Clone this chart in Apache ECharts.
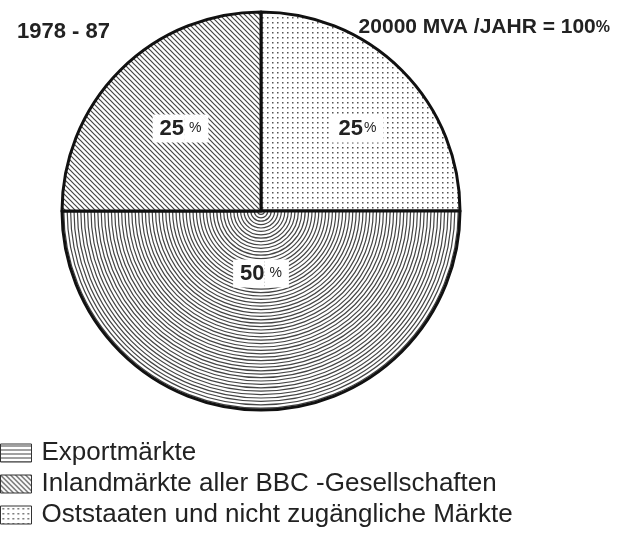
<!DOCTYPE html>
<html>
<head>
<meta charset="utf-8">
<script src="https://cdn.jsdelivr.net/npm/echarts@6/dist/echarts.min.js"></script>
<style>
html, body { margin: 0; padding: 0; background: #fff; }
#main { width: 627px; height: 534px; }
</style>
</head>
<body>
<div id="main"></div>
<script>
// slices in drawing order, clockwise from 12 o'clock
var categories = ['Oststaaten und nicht zugängliche Märkte', 'Exportmärkte', 'Inlandmärkte aller BBC -Gesellschaften'];
var values = [25, 50, 25];
var labels = [['25', '%'], ['50', ' %'], ['25', ' %']];
var legendOrder = ['Exportmärkte', 'Inlandmärkte aller BBC -Gesellschaften', 'Oststaaten und nicht zugängliche Märkte'];

var cx = 261, cy = 211, R = 199;

// dotted fill
function dots() {
    var c = document.createElement('canvas');
    c.width = 5; c.height = 5;
    var g = c.getContext('2d');
    g.fillStyle = '#fff'; g.fillRect(0, 0, 5, 5);
    g.fillStyle = '#555'; g.fillRect(2, 2, 1.5, 1.5);
    return c;
}
// diagonal hatch
function hatch() {
    var c = document.createElement('canvas');
    c.width = 5; c.height = 5;
    var g = c.getContext('2d');
    g.fillStyle = '#fff'; g.fillRect(0, 0, 5, 5);
    g.strokeStyle = '#444'; g.lineWidth = 1.2;
    g.beginPath();
    g.moveTo(-1, -1); g.lineTo(6, 6);
    g.moveTo(-4, 1); g.lineTo(4, 9);
    g.moveTo(1, -4); g.lineTo(9, 4);
    g.stroke();
    return c;
}
// concentric rings around the pie centre
function rings() {
    var c = document.createElement('canvas');
    c.width = 627; c.height = 534;
    var g = c.getContext('2d');
    g.fillStyle = '#fff'; g.fillRect(0, 0, 627, 534);
    g.strokeStyle = '#444'; g.lineWidth = 1.2;
    for (var r = 3.4; r < 460; r += 3.4) {
        g.beginPath(); g.arc(cx, cy, r, 0, Math.PI * 2); g.stroke();
    }
    return c;
}
// near-horizontal lines for the legend swatch of the rings
function lines() {
    var c = document.createElement('canvas');
    c.width = 40; c.height = 4;
    var g = c.getContext('2d');
    g.fillStyle = '#fff'; g.fillRect(0, 0, 40, 4);
    g.strokeStyle = '#444'; g.lineWidth = 1.1;
    g.beginPath(); g.moveTo(0, 2); g.lineTo(40, 2); g.stroke();
    return c;
}

var fills = [
    {image: dots(), repeat: 'repeat'},
    {image: rings(), repeat: 'no-repeat'},
    {image: hatch(), repeat: 'repeat'}
];
var pads = [[0, 0, 20, 48], [0, 0, 80, 0], [0, 16, 20, 0]];

var data = [];
for (var i = 0; i < categories.length; i++) {
    data.push({
        name: categories[i],
        value: values[i],
        itemStyle: {color: fills[i]},
        label: {
            formatter: '{n|' + labels[i][0] + '}{p|' + labels[i][1] + '}',
            padding: pads[i]
        }
    });
}

var legendData = legendOrder.map(function (n) {
    var item = {name: n};
    if (n === 'Exportmärkte') item.itemStyle = {color: {image: lines(), repeat: 'repeat'}};
    return item;
});

var myChart = echarts.init(document.getElementById('main'));
myChart.setOption({
    animation: false,
    title: [{
        text: '1978 - 87',
        left: 12, top: 16,
        textStyle: {fontFamily: 'Liberation Sans', fontSize: 22, fontWeight: 'bold', color: '#222'}
    }, {
        text: '{a|20000 MVA /JAHR = 100}{b|%}',
        right: 12, top: 12,
        textStyle: {
            rich: {
                a: {fontFamily: 'Liberation Sans', fontSize: 21, fontWeight: 'bold', color: '#222'},
                b: {fontFamily: 'Liberation Sans', fontSize: 16, color: '#222'}
            }
        }
    }],
    legend: {
        orient: 'vertical',
        left: 0, top: 440,
        padding: 0,
        itemWidth: 31, itemHeight: 18, itemGap: 5,
        icon: 'rect',
        itemStyle: {borderWidth: 1, borderColor: '#333'},
        data: legendData,
        textStyle: {fontFamily: 'Liberation Sans', fontSize: 26, color: '#222', lineHeight: 26, padding: [0, 0, 0, 5]}
    },
    series: [{
        type: 'pie',
        center: [cx, cy],
        radius: R,
        startAngle: 90,
        clockwise: true,
        silent: true,
        itemStyle: {borderColor: '#111', borderWidth: 3},
        label: {
            show: true,
            position: 'inside',
            rich: {
                n: {fontFamily: 'Liberation Sans', fontSize: 22, fontWeight: 'bold', color: '#222',
                    backgroundColor: '#fff', height: 28, padding: [0, 0, 0, 7]},
                p: {fontFamily: 'Liberation Sans', fontSize: 14, color: '#222',
                    backgroundColor: '#fff', height: 28, padding: [0, 7, 0, 1]}
            }
        },
        labelLine: {show: false},
        data: data
    }]
});
</script>
</body>
</html>
